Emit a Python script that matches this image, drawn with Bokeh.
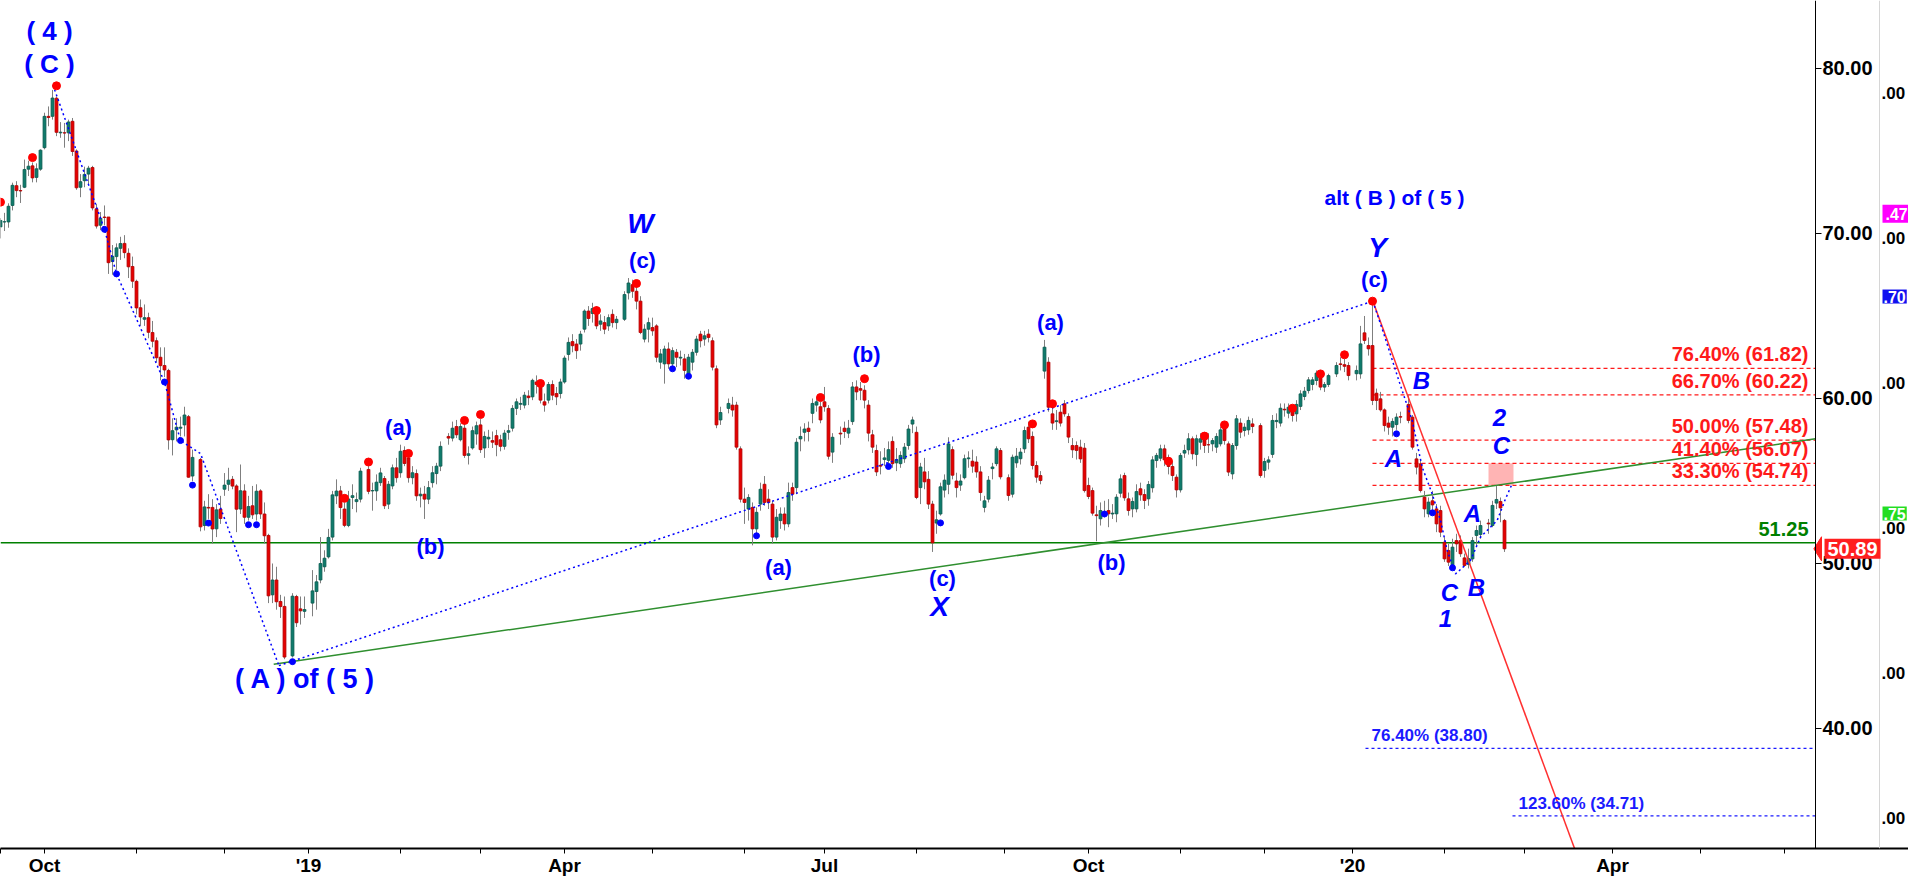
import pandas as pd
from bokeh.plotting import figure
from bokeh.models import Range1d, LinearAxis, FixedTicker, Label
from bokeh.embed import file_html
from bokeh.resources import INLINE

FONT = "Liberation Sans"

# ---------------- data (daily candles, Mon-Fri slots, exchange holidays empty) -------------
first_day = "2018-09-14"
last_day = "2020-02-24"
holidays = ["2018-11-22", "2018-12-25", "2019-01-01", "2019-01-21", "2019-02-18",
            "2019-04-19", "2019-05-27", "2019-07-04", "2019-09-02", "2019-11-28",
            "2019-12-25", "2020-01-01", "2020-01-20", "2020-02-17"]

opens = [
    70.40,
    70.70, 70.70, 71.70, 72.90, 72.60,
    72.80, 73.90, 74.10, 73.40, 73.90,
    75.20, 77.10, 77.10, 78.20, 76.10,
    76.10, 76.10, 76.80, 75.00, 72.80,
    73.20, 73.60, 74.00, 71.50, 70.50,
    71.00, 71.00, 68.30, 68.60, 69.10,
    69.40, 68.80, 68.00, 67.10, 65.50,
    64.80, 64.90, 64.00, 63.50, 62.50,
    62.00, 61.70, 57.50, 58.10, 58.20,
    58.40, 58.90, 55.30, 56.30,
    52.30, 53.40, 53.40, 52.10, 53.30,
    54.50, 54.80, 55.10, 54.70, 53.30,
    54.40, 52.80, 53.50, 53.00, 54.40,
    53.00, 51.70, 48.10, 49.00, 47.70,
    47.40, 44.40, 48.00, 47.25,
    47.10, 47.60, 48.30, 49.00,
    49.80, 50.40, 51.60, 54.10, 54.40,
    53.30, 52.30, 54.00, 53.75, 53.90,
    55.70, 54.40, 54.40, 54.90,
    55.15, 53.60, 54.70, 55.80, 55.50,
    56.85, 56.40, 55.20, 55.45, 54.10,
    54.20, 53.90, 54.90, 55.45, 55.90,
    57.70, 57.60, 58.30, 57.50,
    58.20, 56.55, 57.00, 57.85, 58.40,
    57.00, 57.55, 57.45, 57.75, 57.50,
    57.10, 57.95, 58.20, 59.40, 59.65,
    59.60, 60.15, 60.10, 61.00, 60.70,
    59.80, 59.90, 60.85, 60.30, 60.30,
    61.00, 62.67, 63.45, 63.30, 63.30,
    64.20, 65.30, 65.15, 65.45, 64.50,
    64.60, 64.40, 65.10, 64.60,
    64.80, 66.40, 66.90, 66.50, 65.90,
    63.60, 64.20, 64.30, 64.40, 62.20,
    62.10, 63.00, 62.10, 62.80, 62.45,
    62.40, 61.50, 62.20, 62.80, 63.90,
    63.60, 63.90, 63.50, 61.80, 58.70,
    59.40, 59.60, 59.60, 56.95,
    53.90, 53.30, 53.40, 52.10, 53.60,
    54.80, 53.90, 53.60, 51.60, 52.60,
    53.00, 52.40, 54.60, 54.60, 57.55,
    57.95, 58.20, 59.10, 59.60, 59.50,
    59.80, 59.40, 56.75, 57.90,
    58.20, 57.90, 58.60, 60.70, 60.60,
    60.50, 59.60, 57.80, 56.85, 55.95,
    56.30, 56.25, 57.40, 56.10, 56.05,
    56.35, 57.15, 58.45, 57.95, 54.60,
    55.55, 55.10, 53.60, 52.45, 53.00,
    54.45, 54.80, 56.90, 55.00, 54.75,
    55.20, 56.35, 56.20, 56.15, 55.55,
    53.40, 53.90, 55.75, 56.05, 56.85,
    55.20, 54.20, 56.10, 56.35,
    56.95, 58.26, 57.70, 55.94, 55.33,
    61.66, 62.20, 59.07, 58.60, 59.17,
    59.68, 58.91, 57.15, 57.15, 57.05,
    56.99, 54.73, 54.42, 52.95, 52.71,
    52.91, 53.21, 53.00, 53.01, 54.26,
    55.33, 53.92, 53.31, 53.31, 54.53,
    54.18, 53.92, 54.59, 56.24, 56.38,
    56.95, 56.34, 55.88, 55.23, 54.46,
    56.69, 56.89, 57.56, 56.61, 57.35,
    57.49, 57.20, 57.25, 57.05, 57.25,
    58.16, 57.25, 55.43, 57.15, 58.51,
    58.06, 58.10, 58.46, 58.36,
    55.64, 56.14, 56.61, 58.60, 58.51,
    59.35, 59.11, 59.41, 59.07, 59.52,
    60.12, 60.48, 60.85, 61.09, 61.29,
    60.69, 60.85, 61.49, 62.10,
    62.05, 62.00, 61.50, 61.49,
    63.98, 63.21, 63.21, 60.32, 59.98,
    59.31, 58.51, 58.26, 58.42, 58.90,
    59.64, 58.87, 56.34, 56.04,
    54.02, 53.01, 53.80, 53.31, 53.21,
    51.29, 50.79, 49.88, 51.39, 51.39,
    50.34, 49.95, 50.28, 51.70, 51.76,
    52.45, 52.30, 53.66, 53.76,
    52.61,
]

highs = [
    70.93,
    71.25, 71.83, 73.08, 73.17, 72.95,
    74.48, 74.41, 74.30, 74.25, 75.10,
    77.32, 77.70, 78.70, 78.30, 76.75,
    76.70, 76.90, 77.00, 75.10, 73.60,
    74.05, 74.10, 74.10, 71.80, 71.30,
    71.70, 71.00, 69.30, 69.40, 69.80,
    69.90, 69.10, 68.60, 67.20, 66.00,
    65.70, 65.20, 64.70, 63.70, 63.10,
    63.10, 61.80, 58.80, 58.80, 58.90,
    59.50, 59.00, 56.90, 56.40,
    53.80, 54.20, 53.90, 53.60, 54.10,
    55.48, 55.80, 55.30, 54.80, 56.00,
    54.80, 54.10, 54.70, 54.80, 54.50,
    53.70, 51.80, 50.00, 49.80, 48.10,
    48.00, 48.20, 48.10, 48.00,
    48.00, 49.60, 49.30, 51.60,
    50.80, 52.10, 54.40, 55.10, 54.70,
    53.70, 54.40, 54.80, 54.30, 55.80,
    55.90, 54.90, 55.40, 55.80,
    55.30, 55.00, 56.00, 56.40, 57.20,
    57.10, 56.55, 55.90, 55.70, 54.60,
    54.70, 55.00, 55.90, 56.10, 57.40,
    57.90, 58.60, 58.70, 58.50,
    58.50, 57.10, 58.30, 58.60, 58.75,
    58.00, 58.10, 58.00, 58.10, 57.80,
    58.10, 58.40, 59.60, 60.00, 60.10,
    60.40, 60.50, 61.20, 61.40, 60.75,
    60.30, 61.00, 61.10, 60.70, 61.20,
    62.60, 63.70, 63.90, 63.60, 64.10,
    65.40, 65.60, 65.80, 65.60, 65.10,
    65.00, 65.10, 65.40, 65.00,
    66.50, 67.30, 67.20, 67.00, 66.20,
    64.50, 64.90, 64.90, 64.50, 63.00,
    63.20, 63.40, 63.10, 63.00, 62.90,
    62.70, 62.70, 63.00, 63.80, 64.10,
    64.10, 64.20, 63.70, 62.00, 59.50,
    60.00, 60.10, 59.80, 57.10,
    54.60, 54.20, 53.70, 53.40, 54.90,
    55.30, 54.50, 53.80, 53.30, 53.40,
    53.40, 54.90, 54.90, 57.60, 58.30,
    58.50, 58.60, 60.00, 60.10, 59.80,
    60.70, 59.60, 57.90, 58.30,
    58.60, 58.70, 61.00, 61.10, 61.00,
    60.80, 59.90, 58.10, 57.20, 56.80,
    57.00, 57.40, 57.70, 57.00, 56.80,
    57.30, 58.40, 58.90, 58.30, 56.10,
    56.40, 55.60, 53.80, 53.20, 54.90,
    55.40, 57.65, 57.10, 55.50, 55.40,
    56.60, 56.80, 56.90, 56.50, 55.90,
    54.10, 55.30, 56.10, 57.10, 57.00,
    55.40, 56.60, 57.00, 57.00,
    58.30, 58.60, 58.00, 56.20, 55.60,
    63.55, 62.50, 59.55, 59.30, 59.60,
    59.90, 59.10, 57.60, 57.40, 57.50,
    57.30, 55.20, 54.60, 53.50, 53.70,
    53.80, 53.90, 53.60, 54.20, 55.40,
    55.50, 54.30, 54.00, 54.80, 54.90,
    54.50, 55.00, 56.50, 56.70, 57.20,
    57.20, 56.60, 56.20, 55.40, 56.70,
    57.20, 57.90, 57.70, 57.80, 57.90,
    57.80, 57.90, 57.60, 57.90, 58.30,
    58.40, 57.40, 57.30, 59.00, 58.80,
    58.50, 58.90, 58.80, 58.50,
    56.40, 56.50, 59.00, 59.10, 59.70,
    59.70, 59.70, 59.60, 59.90, 60.50,
    60.70, 61.30, 61.30, 61.70, 61.70,
    61.00, 61.50, 62.20, 62.50,
    62.40, 62.20, 62.00, 64.40,
    65.00, 63.70, 65.90, 60.60, 60.40,
    59.40, 58.90, 58.80, 59.10, 59.20,
    60.20, 59.00, 56.70, 56.30,
    54.40, 54.00, 54.40, 53.60, 53.50,
    51.60, 51.20, 51.50, 51.80, 51.70,
    50.60, 50.90, 51.60, 52.30, 52.60,
    52.70, 53.80, 54.70, 54.00,
    52.70,
]

lows = [
    69.70,
    70.15, 70.35, 71.40, 72.20, 71.85,
    72.75, 73.48, 73.10, 73.10, 73.80,
    75.10, 76.50, 76.90, 75.90, 75.80,
    75.20, 75.60, 74.70, 72.65, 72.20,
    72.80, 73.00, 71.40, 70.30, 70.20,
    70.50, 67.55, 67.50, 67.80, 68.40,
    68.50, 67.30, 66.70, 65.10, 64.40,
    64.40, 63.65, 63.10, 62.20, 61.10,
    61.30, 56.90, 56.55, 57.40, 57.70,
    57.70, 55.20, 55.00, 51.95,
    52.00, 52.70, 51.20, 51.60, 52.40,
    54.10, 54.40, 54.50, 51.90, 53.00,
    52.40, 52.60, 52.70, 52.60, 52.70,
    51.20, 47.60, 47.60, 47.20, 46.70,
    44.20, 44.30, 46.15, 46.30,
    46.70, 46.80, 47.20, 48.80,
    49.50, 50.30, 51.40, 53.60, 52.70,
    52.20, 52.20, 53.30, 53.10, 53.70,
    54.20, 53.20, 53.80, 54.70,
    53.30, 53.30, 54.50, 54.90, 55.20,
    55.90, 54.90, 54.80, 53.80, 53.40,
    52.70, 53.60, 54.60, 54.80, 55.60,
    57.20, 57.40, 57.60, 57.40,
    56.40, 56.00, 56.90, 57.20, 56.70,
    56.40, 57.00, 57.00, 56.50, 56.80,
    56.90, 57.50, 58.00, 59.00, 59.30,
    59.40, 59.60, 59.90, 60.30, 59.70,
    59.20, 59.70, 59.90, 59.60, 60.00,
    60.90, 62.30, 62.80, 62.40, 62.90,
    64.00, 64.40, 64.60, 64.20, 64.10,
    63.90, 64.10, 64.30, 64.20,
    64.70, 66.00, 66.10, 65.40, 63.90,
    63.40, 63.40, 63.80, 62.20, 61.80,
    60.90, 61.80, 61.90, 61.90, 62.00,
    61.20, 61.40, 61.70, 62.60, 63.10,
    63.20, 63.40, 61.70, 58.20, 58.40,
    59.10, 58.90, 56.90, 53.70,
    52.40, 52.60, 51.10, 51.85, 53.20,
    53.50, 53.30, 51.20, 51.40, 52.10,
    52.00, 52.20, 53.80, 54.20, 56.80,
    57.40, 57.40, 58.50, 59.20, 58.50,
    59.20, 56.30, 56.10, 57.20,
    57.60, 57.60, 58.40, 59.90, 59.90,
    59.40, 57.40, 56.70, 55.30, 55.40,
    55.90, 56.00, 55.80, 55.60, 55.80,
    56.10, 56.90, 57.90, 53.90, 53.60,
    54.50, 53.30, 50.70, 51.80, 52.90,
    54.00, 54.20, 55.10, 54.00, 54.40,
    55.10, 55.80, 55.50, 55.20, 53.80,
    53.10, 53.70, 55.10, 55.90, 55.10,
    53.80, 54.00, 55.80, 56.00,
    56.70, 57.30, 55.70, 54.90, 54.80,
    61.20, 59.20, 58.10, 58.10, 58.30,
    58.90, 57.30, 56.40, 56.30, 56.10,
    54.30, 53.90, 52.90, 51.35, 52.30,
    52.80, 52.20, 52.70, 52.50, 54.00,
    53.80, 52.90, 52.80, 53.10, 53.80,
    53.30, 53.50, 54.30, 55.80, 56.20,
    55.90, 55.40, 55.00, 54.00, 54.30,
    56.40, 56.60, 56.30, 55.90, 56.90,
    56.70, 56.70, 56.80, 56.70, 57.10,
    57.20, 55.30, 55.10, 56.90, 57.60,
    57.70, 57.80, 57.90, 55.20,
    55.20, 55.70, 56.40, 58.20, 58.30,
    58.90, 58.80, 58.60, 58.60, 59.30,
    59.90, 60.30, 60.50, 60.80, 60.50,
    60.40, 60.70, 61.30, 61.70,
    61.60, 61.10, 61.10, 61.20,
    63.30, 62.60, 59.60, 59.30, 59.20,
    58.00, 57.80, 57.70, 58.10, 58.50,
    58.50, 56.90, 55.40, 54.30,
    52.80, 52.80, 53.25, 51.90, 51.60,
    50.10, 49.85, 49.95, 50.70, 50.40,
    49.80, 49.70, 50.10, 51.00, 51.50,
    51.80, 52.20, 53.30, 52.50,
    50.70,
]

closes = [
    70.79,
    70.71, 71.65, 72.92, 72.60, 72.58,
    73.88, 74.08, 73.37, 73.92, 75.05,
    77.10, 77.03, 78.21, 76.13, 76.14,
    76.09, 76.76, 74.97, 72.77, 73.14,
    73.58, 73.96, 71.55, 70.45, 70.92,
    70.97, 68.23, 68.62, 69.13, 69.39,
    68.84, 67.98, 67.11, 65.49, 64.94,
    64.90, 64.01, 63.47, 62.47, 61.99,
    61.73, 57.49, 58.05, 58.26, 58.26,
    59.00, 55.23, 56.43, 52.22,
    53.43, 53.36, 52.09, 53.25, 52.73,
    54.75, 55.05, 54.69, 53.29, 54.41,
    52.80, 53.45, 52.95, 54.38, 53.00,
    51.68, 48.04, 49.00, 47.68, 47.39,
    44.33, 48.02, 46.41, 47.13,
    47.21, 48.34, 48.89, 50.00,
    50.32, 51.58, 54.16, 54.39, 53.39,
    52.31, 53.91, 54.11, 53.87, 55.60,
    54.37, 54.42, 54.93, 55.49,
    53.50, 54.80, 55.80, 55.20, 56.80,
    56.06, 55.20, 55.50, 54.10, 54.20,
    53.90, 54.60, 55.50, 55.90, 57.10,
    57.60, 58.20, 57.80, 58.30,
    56.55, 56.65, 58.05, 58.35, 56.90,
    57.70, 57.65, 57.35, 57.20, 57.10,
    57.90, 58.05, 59.40, 59.80, 59.70,
    60.20, 60.05, 61.10, 60.85, 59.90,
    59.60, 60.85, 60.20, 60.10, 61.00,
    62.45, 63.40, 63.20, 62.90, 63.90,
    65.30, 64.85, 65.45, 64.40, 64.70,
    64.20, 64.90, 64.60, 64.80,
    66.30, 67.00, 66.50, 65.90, 64.00,
    64.20, 64.60, 64.10, 62.50, 62.70,
    63.00, 62.10, 62.90, 62.50, 62.50,
    61.70, 62.50, 62.80, 63.60, 63.50,
    63.80, 63.70, 61.90, 58.40, 59.15,
    59.70, 59.30, 57.05, 53.90,
    53.70, 54.00, 52.10, 53.10, 54.50,
    53.70, 53.70, 51.60, 52.80, 53.00,
    52.40, 54.30, 54.20, 57.35, 57.70,
    58.15, 58.00, 59.70, 59.80, 58.70,
    59.50, 56.50, 57.65, 57.85,
    58.00, 58.20, 60.70, 60.40, 60.50,
    59.90, 57.90, 57.05, 55.55, 55.90,
    56.40, 56.90, 56.05, 56.30, 56.55,
    57.05, 58.15, 58.70, 54.00, 55.85,
    54.95, 53.60, 51.25, 52.65, 54.65,
    55.05, 57.25, 55.35, 54.60, 55.00,
    56.35, 56.40, 55.90, 55.55, 54.30,
    53.80, 55.05, 55.85, 56.95, 55.25,
    54.12, 56.44, 56.50, 56.75,
    58.06, 57.56, 55.94, 55.23, 55.03,
    63.11, 59.47, 58.51, 58.65, 58.51,
    59.07, 57.66, 56.89, 56.85, 56.34,
    54.42, 54.06, 53.05, 52.90, 53.21,
    53.11, 53.01, 53.05, 54.02, 55.13,
    53.98, 53.21, 53.76, 54.36, 54.16,
    53.82, 54.79, 56.28, 56.55, 56.95,
    56.28, 55.88, 55.33, 54.46, 56.55,
    56.85, 57.56, 56.65, 57.56, 57.56,
    57.15, 57.19, 57.45, 57.70, 58.10,
    57.45, 55.54, 57.15, 58.77, 57.96,
    58.26, 58.67, 58.30, 55.33,
    56.18, 56.28, 58.67, 58.67, 59.41,
    59.31, 59.47, 58.97, 59.64, 60.28,
    60.44, 61.13, 61.13, 61.54, 60.69,
    60.85, 61.39, 62.00, 62.06,
    61.95, 61.39, 61.70, 63.31,
    63.52, 63.01, 59.88, 59.88, 59.31,
    58.36, 58.26, 58.61, 58.87, 58.87,
    58.67, 57.05, 55.84, 54.42,
    53.31, 53.72, 53.55, 52.40, 51.90,
    50.28, 50.08, 50.99, 51.19, 50.59,
    49.88, 50.30, 51.39, 52.00, 52.30,
    52.40, 53.52, 53.88, 53.37,
    50.89,
]

# swing markers (slot index, price)
red_dot_x = [0, 8, 14, 86, 92, 102, 116, 120, 135, 149, 159, 205, 216, 258, 263,
             292, 301, 306, 323, 330, 336, 343]
red_dot_y = [71.90, 74.60, 78.95, 53.95, 56.15, 56.67, 58.67, 59.03, 60.91, 65.33, 66.97,
             60.06, 61.20, 58.46, 59.68, 56.20, 57.72, 58.40, 59.41, 61.49, 62.65, 65.90]
blue_dot_x = [26, 29, 41, 45, 48, 52, 62, 64, 73, 168, 172, 189, 222, 235, 276, 349, 358, 363]
blue_dot_y = [70.25, 67.55, 61.00, 57.45, 54.75, 52.45, 52.35, 52.35, 44.05, 61.80, 61.35,
              51.68, 55.88, 52.46, 53.00, 57.86, 53.07, 49.74]

# wave count lines
wave1_x = [13.1, 26.0, 29.0, 41.0, 45.0, 50.0, 69.6]
wave1_y = [79.00, 70.25, 67.55, 61.00, 57.45, 56.66, 43.81]
wave2_x = [69.6, 343.1]
wave2_y = [43.81, 65.90]
wave3_x = [343.08, 345.83, 349.58, 352.92, 355.42, 357.92, 360.0, 361.67, 363.75,
           367.5, 370.0, 374.17, 376.25, 377.92]
wave3_y = [65.90, 63.92, 61.09, 58.67, 55.84, 54.22, 52.61, 50.79, 49.37,
           50.18, 51.60, 52.61, 53.92, 54.83]
trend_x = [68.3, 453.75]
trend_y = [43.90, 57.56]
proj_x = [343.1, 396.0]
proj_y = [65.90, 31.09]

# retracement / extension levels
fib_red_levels = [61.82, 60.22, 57.48, 56.07, 54.74]
fib_red_text = ["76.40% (61.82)", "66.70% (60.22)", "50.00% (57.48)", "41.40% (56.07)", "33.30% (54.74)"]
fib_red_start = 343.0
fib_blue_levels = [38.80, 34.71]
fib_blue_text = ["76.40% (38.80)", "123.60% (34.71)"]
fib_blue_start = [341.25, 378.0]
support_level = 51.25
zone_left, zone_right, zone_bottom, zone_top = 372.0, 378.25, 54.74, 56.07
last_price = 50.89
side_tag_text = [".47", ".70", ".75"]
side_tag_price = [71.20, 66.18, 53.03]
side_tag_color = ["#ff00ff", "#1010f0", "#22dd22"]
side_tag_pad = [3, 1, 1]

price_ticks = [40, 50, 60, 70, 80]
sec_ticks = [0, 1, 2, 3, 4, 5]

# ---------------- layout constants (4 px per weekday slot) ----------------
axis_x = 453.75        # price axis line
sec_axis_x = 469.75    # second (cut-off) price scale
x_end = 477.0

# ---------------- build x positions ----------------
all_days = pd.bdate_range(start=first_day, end="2020-06-30")
hol = set(pd.to_datetime(holidays))
pos = {d: k for k, d in enumerate(all_days)}
trade_days = [d for d in all_days if d <= pd.Timestamp(last_day) and d not in hol]
n = min(len(trade_days), len(opens), len(highs), len(lows), len(closes))
xs = [pos[d] for d in trade_days[:n]]

month_ticks, month_labels, seen = [], {}, set()
for k, d in enumerate(all_days):
    key = (d.year, d.month)
    if key in seen or k >= axis_x:
        continue
    seen.add(key)
    month_ticks.append(k)
    if d.month == 1:
        month_labels[k] = "'" + str(d.year)[2:]
    elif d.month in (4, 7, 10):
        month_labels[k] = d.strftime("%b")
    else:
        month_labels[k] = ""

# ---------------- figure ----------------
p = figure(frame_width=1908, frame_height=848,
           x_range=Range1d(0, x_end), y_range=Range1d(32.727, 84.121),
           y_axis_location="right", output_backend="svg", toolbar_location=None,
           min_border_left=0, min_border_top=0, min_border_right=0, min_border_bottom=0,
           background_fill_color="white", border_fill_color="white")
p.outline_line_color = None
p.xgrid.visible = False
p.ygrid.visible = False
p.extra_y_ranges = {"y2": Range1d(-0.2069, 5.641)}

yax = p.yaxis[0]
yax.fixed_location = axis_x
yax.ticker = FixedTicker(ticks=price_ticks)
yax.major_label_overrides = {t: f"{t:.2f}" for t in price_ticks}
yax.major_label_text_font = FONT
yax.major_label_text_font_size = "20px"
yax.major_label_text_font_style = "bold"
yax.major_label_text_color = "black"
yax.major_tick_out = 6
yax.major_tick_in = 0
yax.minor_tick_out = 0
yax.minor_tick_in = 0
yax.major_label_standoff = 1
yax.axis_line_color = "black"
yax.major_tick_line_color = "black"

ax2 = LinearAxis(y_range_name="y2", fixed_location=sec_axis_x,
                 ticker=FixedTicker(ticks=sec_ticks),
                 major_label_overrides={t: ".00" for t in sec_ticks},
                 major_tick_out=0, major_tick_in=0, minor_tick_out=0, minor_tick_in=0,
                 axis_line_color="#d6d6d6", major_label_standoff=2,
                 major_label_text_font=FONT, major_label_text_font_size="17px",
                 major_label_text_font_style="bold", major_label_text_color="black")
p.add_layout(ax2, "right")

xax = p.xaxis[0]
xax.ticker = FixedTicker(ticks=month_ticks)
xax.major_label_overrides = month_labels
xax.major_label_text_font = FONT
xax.major_label_text_font_size = "19px"
xax.major_label_text_font_style = "bold"
xax.major_label_text_color = "black"
xax.major_tick_out = 5
xax.major_tick_in = 0
xax.minor_tick_out = 0
xax.minor_tick_in = 0
xax.major_label_standoff = 1
xax.axis_line_width = 2
xax.axis_line_color = "black"

# ---------------- glyphs ----------------
p.quad(left=[zone_left], right=[zone_right], bottom=[zone_bottom], top=[zone_top],
       fill_color="#ffb4b4", line_color=None)

for lv in fib_red_levels:
    p.segment(x0=[fib_red_start], x1=[axis_x], y0=[lv], y1=[lv],
              line_color="#ff1a1a", line_dash="4 3", line_width=1.2)
for lv, st in zip(fib_blue_levels, fib_blue_start):
    p.segment(x0=[st], x1=[axis_x], y0=[lv], y1=[lv],
              line_color="#1a1aff", line_dash="3 3", line_width=1.2)

p.segment(x0=[0], x1=[axis_x], y0=[support_level], y1=[support_level],
          line_color="#008000", line_width=1.5)
p.line(trend_x, trend_y, line_color="#2f8f2f", line_width=1.5)

p.segment(x0=xs, x1=xs, y0=lows[:n], y1=highs[:n], line_color="#7f7f7f", line_width=1)

ux, ut, ub, dx, dt, db = [], [], [], [], [], []
for x, o, c in zip(xs, opens[:n], closes[:n]):
    if c >= o:
        ux.append(x); ut.append(c); ub.append(o)
    else:
        dx.append(x); dt.append(o); db.append(c)
p.vbar(x=ux, width=0.72, top=ut, bottom=ub, fill_color="#0f7b6c", line_color="#0a5a4f", line_width=0.8)
p.vbar(x=dx, width=0.72, top=dt, bottom=db, fill_color="#e60000", line_color="#b00000", line_width=0.8)

p.line(proj_x, proj_y, line_color="#ff3030", line_width=1.5)
for wx, wy in ((wave1_x, wave1_y), (wave2_x, wave2_y), (wave3_x, wave3_y)):
    p.line(wx, wy, line_color="#0000ff", line_dash="2 3", line_width=1.5)

p.scatter(red_dot_x, red_dot_y, size=8, marker="circle", fill_color="#ff0000", line_color="#ff0000")
p.scatter(blue_dot_x, blue_dot_y, size=6, marker="circle", fill_color="#0000ff", line_color="#0000ff")

# ---------------- texts ----------------
wave_labels = [
    ("( 4 )", 12.25, 82.30, "26px", "bold"),
    ("( C )", 12.25, 80.30, "26px", "bold"),
    ("( A ) of ( 5 )", 76.25, 42.97, "27px", "bold"),
    ("(a)", 99.5, 58.24, "22px", "bold"),
    ("(b)", 107.5, 51.03, "22px", "bold"),
    ("W", 160.0, 70.61, "28px", "bold italic"),
    ("(c)", 160.5, 68.36, "22px", "bold"),
    ("(a)", 194.5, 49.76, "22px", "bold"),
    ("(b)", 216.5, 62.67, "22px", "bold"),
    ("(c)", 235.5, 49.09, "22px", "bold"),
    ("X", 234.75, 47.39, "28px", "bold italic"),
    ("(a)", 262.5, 64.61, "22px", "bold"),
    ("(b)", 277.75, 50.06, "22px", "bold"),
    ("alt ( B ) of ( 5 )", 348.5, 72.18, "21px", "bold"),
    ("Y", 344.25, 69.15, "28px", "bold italic"),
    ("(c)", 343.5, 67.21, "22px", "bold"),
    ("B", 355.25, 61.09, "24px", "bold italic"),
    ("A", 348.25, 56.36, "24px", "bold italic"),
    ("2", 374.75, 58.85, "24px", "bold italic"),
    ("C", 375.25, 57.15, "24px", "bold italic"),
    ("A", 368.0, 53.03, "24px", "bold italic"),
    ("C", 362.25, 48.24, "24px", "bold italic"),
    ("B", 369.0, 48.55, "24px", "bold italic"),
    ("1", 361.25, 46.67, "24px", "bold italic"),
]
for t, x, y, sz, st in wave_labels:
    p.add_layout(Label(x=x, y=y, text=t, text_align="center", text_baseline="middle",
                       text_font=FONT, text_font_size=sz, text_font_style=st, text_color="#0000ff"))

for lv, t in zip(fib_red_levels, fib_red_text):
    p.add_layout(Label(x=axis_x - 1.75, y=lv + 0.85, text=t, text_align="right",
                       text_baseline="middle", text_font=FONT, text_font_size="20px",
                       text_font_style="bold", text_color="#ff1a1a"))
for lv, t, st in zip(fib_blue_levels, fib_blue_text, fib_blue_start):
    p.add_layout(Label(x=st + 1.5, y=lv + 0.75, text=t, text_align="left", text_baseline="middle",
                       text_font=FONT, text_font_size="17px", text_font_style="bold",
                       text_color="#1a1aff"))
p.add_layout(Label(x=axis_x - 1.75, y=support_level + 0.87, text=f"{support_level:.2f}",
                   text_align="right", text_baseline="middle", text_font=FONT,
                   text_font_size="20px", text_font_style="bold", text_color="#008000"))

# last-price tag on the axis strip, with its pointer
tag_x = axis_x + 1.5
p.patch(x=[axis_x - 0.4, tag_x, tag_x], y=[last_price, last_price + 0.73, last_price - 0.73],
        fill_color="#ff1f1f", line_color="#ff1f1f")
p.add_layout(Label(x=tag_x + 0.75, y=last_price, text=f"{last_price:.2f}", text_align="left",
                   text_baseline="middle", text_font=FONT, text_font_size="20px",
                   text_font_style="bold", text_color="white",
                   background_fill_color="#ff1f1f", padding=3))
for t, y, col, pad in zip(side_tag_text, side_tag_price, side_tag_color, side_tag_pad):
    p.add_layout(Label(x=sec_axis_x + 0.75, y=y, text=t, text_align="left",
                       text_baseline="middle", text_font=FONT, text_font_size="16px",
                       text_font_style="bold", text_color="white",
                       background_fill_color=col, padding=pad))

open("out.html", "w").write(file_html(p, INLINE))
